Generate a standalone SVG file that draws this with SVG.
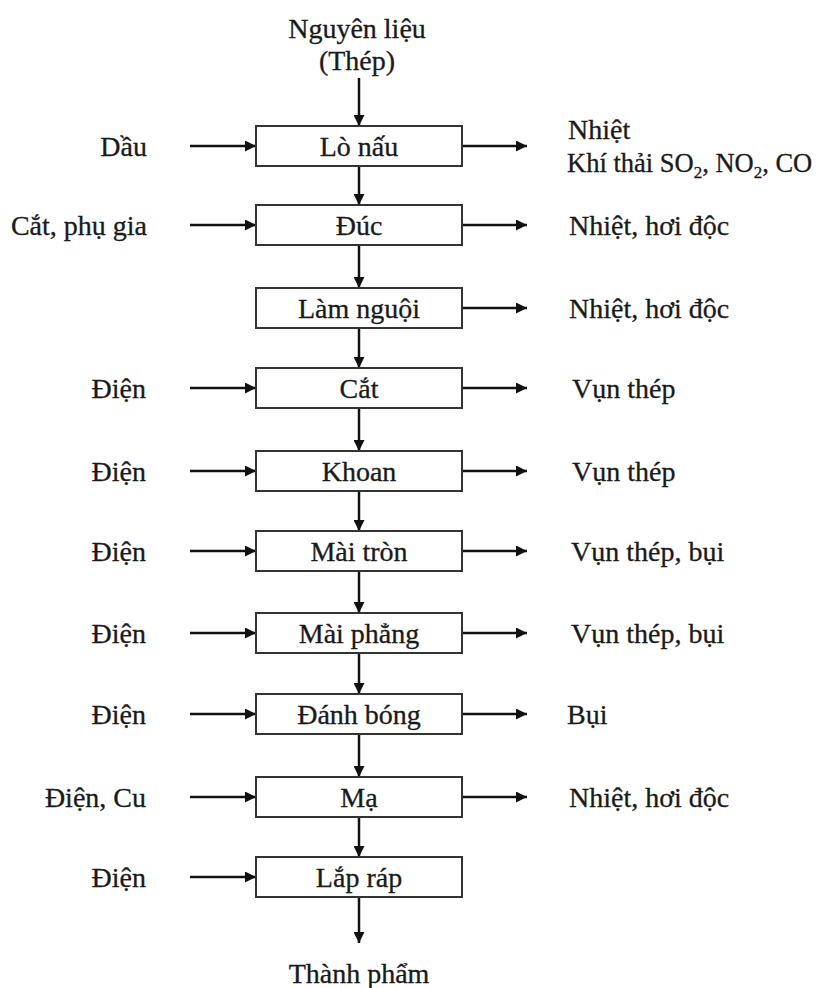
<svg xmlns="http://www.w3.org/2000/svg" width="825" height="988" viewBox="0 0 825 988">
  <style>
    text { font-family: "Liberation Serif", "DejaVu Serif", serif; font-size: 28px; fill: #1a1a1a; stroke: #1a1a1a; stroke-width: 0.3; }
    .c { text-anchor: middle; }
    .l { text-anchor: end; }
    .sub { font-size: 17px; }
    .box { fill: #ffffff; stroke: #333333; stroke-width: 2; }
    .ln { stroke: #111111; stroke-width: 2.5; fill: none; marker-end: url(#ah); }
  </style>
  <defs>
    <marker id="ah" viewBox="0 0 10 10" refX="10" refY="5" markerWidth="5" markerHeight="4.4" orient="auto" markerUnits="strokeWidth">
      <path d="M0,0 L10,5 L0,10 z" fill="#111111"/>
    </marker>
  </defs>
  <rect width="825" height="988" fill="#ffffff"/>

  <!-- connectors -->
  <g id="connectors">
    <!-- main flow -->
    <line class="ln" x1="359" y1="78" x2="359" y2="126"/>
    <line class="ln" x1="359" y1="166" x2="359" y2="205"/>
    <line class="ln" x1="359" y1="245" x2="359" y2="288"/>
    <line class="ln" x1="359" y1="328" x2="359" y2="368"/>
    <line class="ln" x1="359" y1="408" x2="359" y2="451"/>
    <line class="ln" x1="359" y1="491" x2="359" y2="531"/>
    <line class="ln" x1="359" y1="571" x2="359" y2="613"/>
    <line class="ln" x1="359" y1="653" x2="359" y2="694"/>
    <line class="ln" x1="359" y1="734" x2="359" y2="777"/>
    <line class="ln" x1="359" y1="817" x2="359" y2="857"/>
    <line class="ln" x1="359" y1="897" x2="359" y2="943"/>
    <!-- inputs -->
    <line class="ln" x1="190" y1="146" x2="256" y2="146"/>
    <line class="ln" x1="190" y1="225" x2="256" y2="225"/>
    <line class="ln" x1="190" y1="388" x2="256" y2="388"/>
    <line class="ln" x1="190" y1="471" x2="256" y2="471"/>
    <line class="ln" x1="190" y1="551" x2="256" y2="551"/>
    <line class="ln" x1="190" y1="633" x2="256" y2="633"/>
    <line class="ln" x1="190" y1="714" x2="256" y2="714"/>
    <line class="ln" x1="190" y1="797" x2="256" y2="797"/>
    <line class="ln" x1="190" y1="877" x2="256" y2="877"/>
    <!-- outputs -->
    <line class="ln" x1="462" y1="146" x2="527" y2="146"/>
    <line class="ln" x1="462" y1="225" x2="527" y2="225"/>
    <line class="ln" x1="462" y1="308" x2="527" y2="308"/>
    <line class="ln" x1="462" y1="388" x2="527" y2="388"/>
    <line class="ln" x1="462" y1="471" x2="527" y2="471"/>
    <line class="ln" x1="462" y1="551" x2="527" y2="551"/>
    <line class="ln" x1="462" y1="633" x2="527" y2="633"/>
    <line class="ln" x1="462" y1="714" x2="527" y2="714"/>
    <line class="ln" x1="462" y1="797" x2="527" y2="797"/>
  </g>

  <!-- start / end labels -->
  <g id="start">
    <text class="c" x="357" y="38">Nguyên liệu</text>
    <text class="c" x="357" y="70">(Thép)</text>
  </g>
  <g id="end">
    <text class="c" x="359" y="983">Thành phẩm</text>
  </g>

  <!-- process steps -->
  <g id="lo-nau">
    <rect class="box" x="256" y="126" width="206" height="40"/>
    <text class="c" x="359" y="156">Lò nấu</text>
  </g>
  <g id="duc">
    <rect class="box" x="256" y="205" width="206" height="40"/>
    <text class="c" x="359" y="235">Đúc</text>
  </g>
  <g id="lam-nguoi">
    <rect class="box" x="256" y="288" width="206" height="40"/>
    <text class="c" x="359" y="318">Làm nguội</text>
  </g>
  <g id="cat">
    <rect class="box" x="256" y="368" width="206" height="40"/>
    <text class="c" x="359" y="398">Cắt</text>
  </g>
  <g id="khoan">
    <rect class="box" x="256" y="451" width="206" height="40"/>
    <text class="c" x="359" y="481">Khoan</text>
  </g>
  <g id="mai-tron">
    <rect class="box" x="256" y="531" width="206" height="40"/>
    <text class="c" x="359" y="561">Mài tròn</text>
  </g>
  <g id="mai-phang">
    <rect class="box" x="256" y="613" width="206" height="40"/>
    <text class="c" x="359" y="643">Mài phẳng</text>
  </g>
  <g id="danh-bong">
    <rect class="box" x="256" y="694" width="206" height="40"/>
    <text class="c" x="359" y="724">Đánh bóng</text>
  </g>
  <g id="ma">
    <rect class="box" x="256" y="777" width="206" height="40"/>
    <text class="c" x="359" y="807">Mạ</text>
  </g>
  <g id="lap-rap">
    <rect class="box" x="256" y="857" width="206" height="40"/>
    <text class="c" x="359" y="887">Lắp ráp</text>
  </g>

  <!-- inputs -->
  <g id="inputs">
    <text class="l" x="147" y="156">Dầu</text>
    <text class="l" x="147" y="235">Cắt, phụ gia</text>
    <text class="l" x="146" y="398">Điện</text>
    <text class="l" x="146" y="481">Điện</text>
    <text class="l" x="146" y="561">Điện</text>
    <text class="l" x="146" y="643">Điện</text>
    <text class="l" x="146" y="724">Điện</text>
    <text class="l" x="146" y="807">Điện, Cu</text>
    <text class="l" x="146" y="887">Điện</text>
  </g>

  <!-- outputs -->
  <g id="outputs">
    <text x="568" y="139">Nhiệt</text>
    <text x="567" y="172" style="font-size:26.5px">Khí thải SO<tspan class="sub" dy="6">2</tspan><tspan dy="-6">, NO</tspan><tspan class="sub" dy="6">2</tspan><tspan dy="-6">, CO</tspan></text>
    <text x="569" y="235">Nhiệt, hơi độc</text>
    <text x="569" y="318">Nhiệt, hơi độc</text>
    <text x="572" y="398">Vụn thép</text>
    <text x="572" y="481">Vụn thép</text>
    <text x="571" y="561">Vụn thép, bụi</text>
    <text x="571" y="643">Vụn thép, bụi</text>
    <text x="567" y="724">Bụi</text>
    <text x="569" y="807">Nhiệt, hơi độc</text>
  </g>
</svg>
